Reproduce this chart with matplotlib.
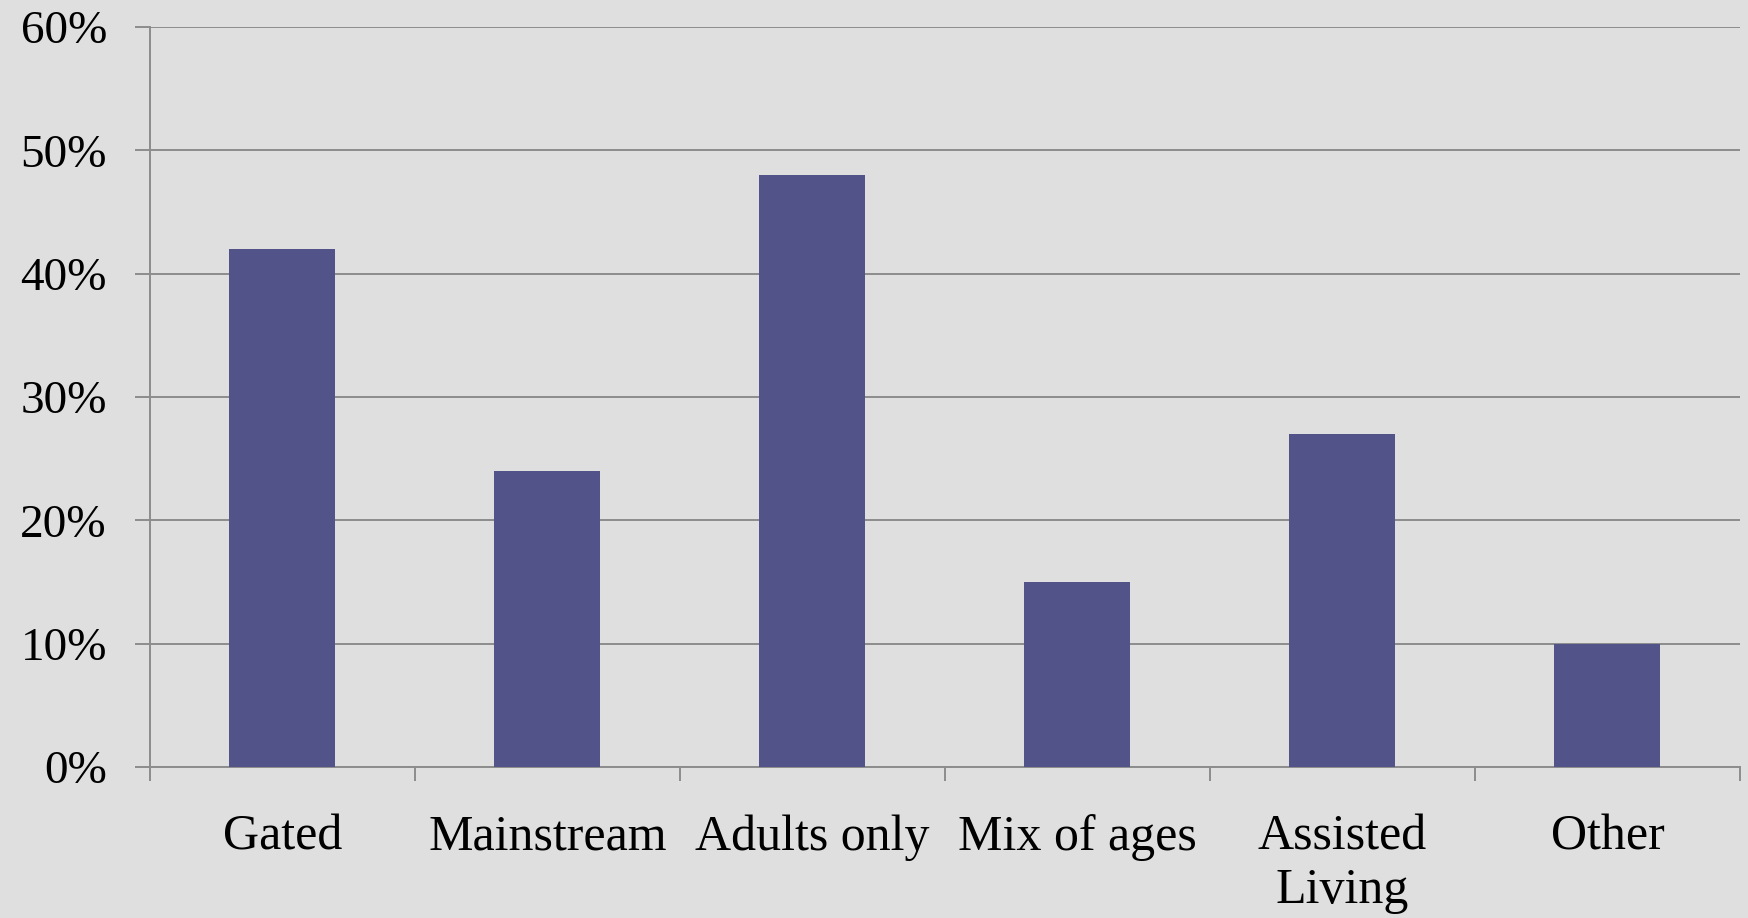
import numpy as np
import matplotlib.pyplot as plt
from matplotlib.ticker import PercentFormatter

categories = ['Gated', 'Mainstream', 'Adults only', 'Mix of ages', 'Assisted\nLiving', 'Other']
values = [42, 24, 48, 15, 27, 10]
y_ticks = [0, 10, 20, 30, 40, 50, 60]

bg = '#dfdfdf'
bar_color = '#525388'
grid_color = '#8c8c8c'

plt.rcParams['font.family'] = ['Liberation Serif', 'DejaVu Serif']

fig = plt.figure(figsize=(17.48, 9.18), dpi=100, facecolor=bg)
ax = fig.add_axes([0.0858, 0.1645, 0.9096, 0.8061], facecolor=bg)

x = np.arange(len(categories))
ax.bar(x, values, width=0.4, color=bar_color, zorder=3)

ax.set_xlim(-0.5, len(categories) - 0.5)
ax.set_ylim(0, 60)
ax.set_yticks(y_ticks)
ax.yaxis.set_major_formatter(PercentFormatter(decimals=0))
ax.grid(axis='y', color=grid_color, linewidth=1.4, zorder=0)

ax.set_xticks(x)
ax.set_xticklabels(categories, fontsize=36, linespacing=1.2)
ax.set_xticks(np.arange(len(categories) + 1) - 0.5, minor=True)
ax.tick_params(axis='x', which='major', length=0, pad=34)
ax.tick_params(axis='x', which='minor', length=10, width=1.4, color=grid_color, direction='out')
ax.tick_params(axis='y', length=11, width=1.4, color=grid_color, labelsize=34, pad=20)

for s in ['top', 'right']:
    ax.spines[s].set_visible(False)
for s in ['left', 'bottom']:
    ax.spines[s].set_color(grid_color)
    ax.spines[s].set_linewidth(1.4)

fig.savefig('out.png', dpi=100, facecolor=bg)
